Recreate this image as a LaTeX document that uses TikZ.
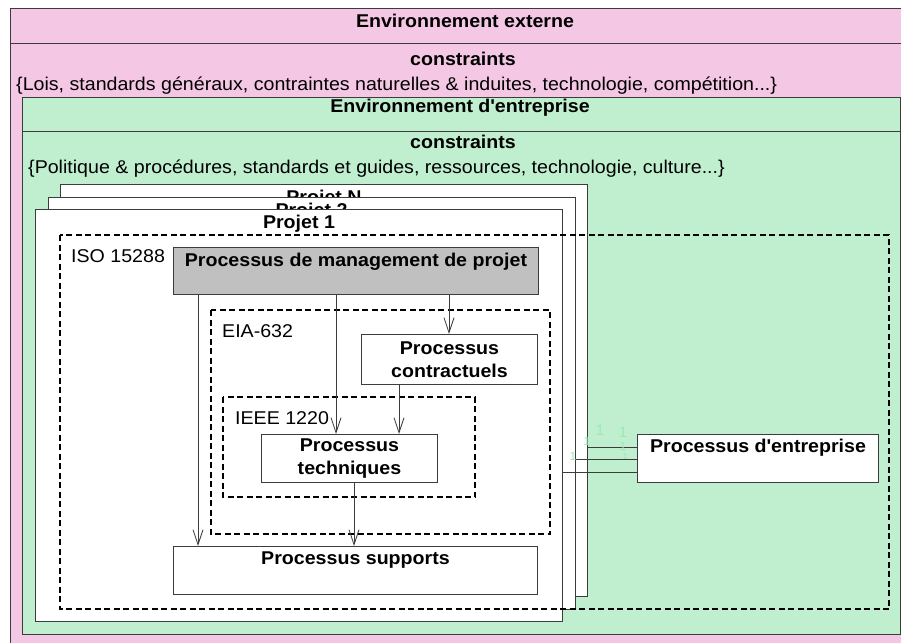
\documentclass[tikz,border=0pt]{standalone}
\usepackage{fontspec}
\setmainfont{Liberation Sans}[FakeStretch=1.06]
\usetikzlibrary{arrows.meta}

\definecolor{extpink}{RGB}{244,200,228}
\definecolor{entgreen}{RGB}{191,239,206}
\definecolor{mgtgray}{RGB}{192,192,192}
\definecolor{lineclr}{RGB}{60,60,60}
\definecolor{faint}{RGB}{160,232,178}

\tikzset{
  frame/.style={draw=lineclr,line width=1pt},
  zone/.style={draw=black,line width=1.1pt,dash pattern=on 6pt off 3.5pt},
  projbox/.style={frame,fill=white,font=\bfseries,inner sep=0pt,minimum width=527,text height=19,text depth=393},
  procbox/.style={frame,fill=white,font=\bfseries,inner sep=0pt,align=center},
  flow/.style={draw=lineclr,line width=.8pt,-{Straight Barb[length=15pt,width=10pt]}},
  mult/.style={text=faint,inner sep=0pt}
}

\begin{document}
\fontsize{18.5}{22.5}\selectfont
\begin{tikzpicture}[x=1pt,y=-1pt]
\useasboundingbox (0,0) rectangle (901,642);

\draw[frame,fill=extpink] (10,9) rectangle (930,660);
\draw[frame] (10,44) -- (930,44);
\node[font=\bfseries,anchor=base] (extT) at (465,27.5) {Environnement externe};
\node[font=\bfseries,anchor=base] (extC) at (463,65.5) {constraints};
\node[anchor=base west,inner sep=0pt] (extL) at (16,90.5) {\{Lois, standards généraux, contraintes naturelles \& induites, technologie, compétition...\}};

\draw[frame,fill=entgreen] (22,97) rectangle (900,634);
\draw[frame] (22,131) -- (900,131);
\node[font=\bfseries,anchor=base] (entT) at (460,112) {Environnement d\textquotesingle entreprise};
\node[font=\bfseries,anchor=base] (entC) at (463,148) {constraints};
\node[anchor=base west,inner sep=0pt] (entL) at (28,173) {\{Politique \& procédures, standards et guides, ressources, technologie, culture...\}};

 \foreach \p [count=\k from 0] in {N,2,1}
 {\node[projbox,anchor=north west] (proj\p) at ({60-12.5*\k},{184+12.5*\k}) {Projet \p};
 }

\draw[zone] (60,235) rectangle (889,609);
\node[anchor=base west,inner sep=0pt] (iso) at (71,262) {ISO 15288};
\node[procbox,fill=mgtgray,anchor=north west,minimum width=365,text height=18.7,text depth=28.3] (mgmt) at (173,247) {Processus de management de projet};

\draw[zone] (211,310) rectangle (550,534);
\node[anchor=base west,inner sep=0pt] (eia) at (222,337.5) {EIA-632};
\node[procbox,anchor=north west,minimum width=176,minimum height=50] (contr) at (361,334) {Processus\\contractuels};

\draw[zone] (223,397) rectangle (475,497);
\node[anchor=base west,inner sep=0pt] (ieee) at (235,424) {IEEE 1220};
\node[procbox,anchor=north west,minimum width=176,minimum height=48] (tech) at (261,434) {Processus\\techniques};

\node[procbox,anchor=north west,minimum width=364,text height=18,text depth=30] (supp) at (173,546) {Processus supports};
\node[procbox,anchor=north west,minimum width=241,text height=18.3,text depth=29.7] (entr) at (637,434) {Processus d\textquotesingle entreprise};

 \foreach \x/\from/\to in {198/mgmt/supp,336/mgmt/tech,449/mgmt/contr,399/contr/tech,354/tech/supp}
 {\coordinate (t) at (\x,0);
 \draw[flow] (t |- \from.south) -- (t |- \to.north);
 }

 \foreach \p/\dy in {N/13,2/25,1/38}
 {\path (entr.north west) ++(0,\dy) coordinate (k\p);
 \draw[lineclr,line width=.8pt] (proj\p.east |- k\p) -- (k\p);
 }

\node[mult,font=\fontsize{12}{12}\selectfont] (m1) at (573,456) {1};
\node[mult,font=\fontsize{12}{12}\selectfont] (m2) at (587,441) {1};
\node[mult,font=\fontsize{15}{15}\selectfont] (m3) at (600,430) {1};
\node[mult,font=\fontsize{15}{15}\selectfont] (m4) at (623,432) {1};
\node[mult,font=\fontsize{12}{12}\selectfont] (m5) at (623,446) {1};
\node[mult,font=\fontsize{9}{9}\selectfont] (m6) at (625,456) {1};

\end{tikzpicture}
\end{document}
